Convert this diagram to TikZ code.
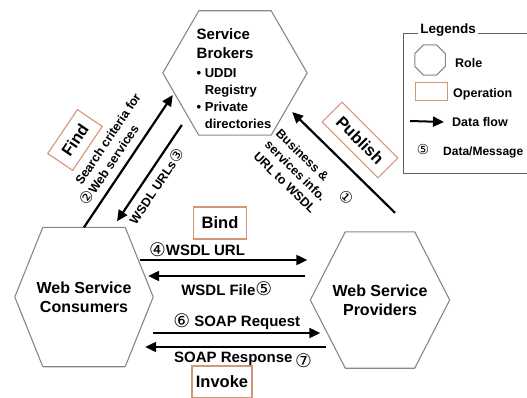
\documentclass[tikz,border=0pt]{standalone}
\usepackage{fontspec}
\setmainfont{Liberation Sans}
\newfontfamily\circfont{DejaVu Sans}
\usetikzlibrary{arrows.meta,calc,shapes.geometric}
\definecolor{hexgray}{RGB}{135,135,135}
\definecolor{opbrown}{RGB}{210,150,120}
\definecolor{leggray}{RGB}{95,95,95}
\newcommand{\cnum}[1]{\raisebox{-0.1ex}{\scalebox{1.25}{\circfont\mdseries #1}}}
% hexagon outline round a role node, #2 = corner inset
\newcommand{\hexrole}[2]{%
  \draw[hexline] (#1.west) -- ([xshift=#2]#1.north west) -- ([xshift=-#2]#1.north east)
    -- (#1.east) -- ([xshift=-#2]#1.south east) -- ([xshift=#2]#1.south west) -- cycle;}
\tikzset{
  role/.style={rectangle, inner sep=0pt, align=center,
               font=\fontsize{16}{19}\selectfont\bfseries},
  hexline/.style={draw=hexgray, line width=1.1pt, line join=round},
  opbox/.style={rectangle, draw=opbrown, fill=white, line width=1.1pt, inner sep=0pt,
                minimum height=30pt, font=\fontsize{16.5}{19}\selectfont\bfseries},
  arr/.style={-{Triangle[length=11pt,width=10pt]}, line width=2.2pt},
  rarr/.style={{Triangle[length=11pt,width=10pt]}-, line width=2.2pt},
  lbl/.style={font=\fontsize{15}{17}\selectfont\bfseries, inner sep=1pt},
  slbl/.style={font=\fontsize{12.5}{16}\selectfont\bfseries, align=left, sloped, inner sep=1pt},
  legtxt/.style={font=\fontsize{12.5}{14}\selectfont\bfseries, anchor=west, inner sep=0pt},
}
\begin{document}
\begin{tikzpicture}[x=1pt, y=-1pt]
    \useasboundingbox (0,0) rectangle (527,398);

    % roles
    \node[role, minimum width=144pt, minimum height=124pt] (broker) at (235,73) {};
    \node[role, minimum width=138pt, minimum height=139pt] (cons) at (84,297) {Web Service\\Consumers};
    \node[role, minimum width=139pt, minimum height=136pt] (prov) at (380,300) {Web Service\\Providers};
    \hexrole{broker}{36pt}
    \hexrole{cons}{28pt}
    \hexrole{prov}{35pt}
    \node[font=\fontsize{13}{17}\selectfont\bfseries, align=left] (brokertxt) at (234,79)
          {{\fontsize{15}{18}\selectfont Service}\\[2pt]{\fontsize{15}{18}\selectfont Brokers}\\[2pt]
           •~UDDI\\\hphantom{•~}Registry\\•~Private\\\hphantom{•~}directories};

    % operations
    \node[opbox, minimum width=53pt, rotate=56] (find) at (75,140) {Find};
    \node[opbox, minimum width=79pt, minimum height=28pt, rotate=-45] (publish) at (360,140) {Publish};
    \node[opbox, minimum width=53pt, minimum height=32pt] (bind) at (220,223) {Bind};
    \node[opbox, minimum width=60pt, minimum height=32pt] (invoke) at (222,382) {Invoke};

    % find
    \draw[arr] (cons.north) -- ($(broker.west)+(10,22)$)
          node[slbl, above=6pt, pos=0.5] {\hphantom{\cnum{②}}Search criteria for\\\cnum{②}Web services};
    \draw[rarr] ($(cons.north)+(33,-6)$) -- ($(broker.west)+(19,52)$)
          node[slbl, below=5pt, pos=0.44] {WSDL URLs\cnum{③}};

    % publish
    \draw[rarr] ($(broker.east)+(-15,39)$) -- ($(prov.north)+(15,-19)$)
          node[slbl, below=15pt, pos=0.38] {Business \&\hspace{20pt}\cnum{①}\\services info.\\URL to WSDL};

    % bind
    \draw[arr] ($(cons.east)+(-13,-37)$) -- ($(prov.west)+(-3,-40)$)
          node[lbl, above=1pt, pos=0.34] {\cnum{④}WSDL URL};
    \draw[rarr] ($(cons.east)+(-5,-21)$) -- ($(prov.west)+(-5,-24)$)
          node[lbl, below=4pt, pos=0.5] {WSDL File\cnum{⑤}};

    % invoke
    \draw[arr] ($(cons.east)+(0,36)$) -- ($(prov.west)+(10,33)$)
          node[lbl, above=1pt, pos=0.5] {\cnum{⑥} SOAP Request};
    \draw[rarr] ($(cons.east)+(-8,50)$) -- ($(prov.west)+(16,47)$)
          node[lbl, below=3pt, pos=0.54] {SOAP Response\,\raisebox{-4pt}{\cnum{⑦}}};

    % legend
    \draw[leggray, line width=0.8pt] (527,33) -- (403,33) -- (403,173) -- (527,173);
    \node[fill=white, inner sep=2pt, font=\fontsize{13.5}{15}\selectfont\bfseries] (legtitle) at (448,30) {Legends};
    \node[regular polygon, regular polygon sides=8, draw=hexgray, line width=1pt,
          minimum size=33pt, inner sep=0pt] (legrole) at (430,60) {};
    \node[legtxt] (legroletxt) at (455,63) {Role};
    \node[draw=opbrown, line width=1pt, minimum width=32pt, minimum height=18pt, inner sep=0pt] (legop) at (431,92) {};
    \node[legtxt] (legoptxt) at (453,94) {Operation};
    \node[legtxt] (legflow) at (452,122) {Data flow};
    \coordinate (legarr) at (410,121);
    \draw[arr, line width=2pt] (legarr) -- ([xshift=-8pt]legflow.west);
    \node[font=\fontsize{11}{12}\selectfont] (legmsg) at (423,149) {\cnum{⑤}};
    \node[legtxt, font=\fontsize{12}{14}\selectfont\bfseries] (legmsgtxt) at (443,152) {Data/Message};
\end{tikzpicture}
\end{document}
